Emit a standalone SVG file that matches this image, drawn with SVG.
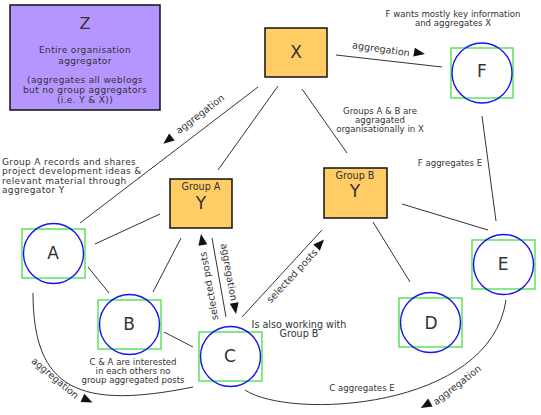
<svg xmlns="http://www.w3.org/2000/svg" xmlns:xlink="http://www.w3.org/1999/xlink" width="541" height="415" viewBox="0 0 541 415">
<defs>
<style>
.t{font-family:"DejaVu Sans",Verdana,sans-serif;fill:#333;font-size:8.6px}
.m{font-size:9.6px}
.s{font-size:9px;letter-spacing:0.35px}
.big{font-size:17px}
.ln{fill:none;stroke:#333;stroke-width:1}
.box{stroke:#111;stroke-width:1.5}
.y{fill:#FFCC66}
.z{fill:#B596FF}
.gr{fill:none;stroke:#44DD44;stroke-width:1.3}
.ci{fill:none;stroke:#1515EE;stroke-width:1.4}
.ah{fill:#111}
</style>
<path id="ah" d="M6,0 L-5,-4.5 L-5,4.5 Z"/>
</defs>
<rect width="541" height="415" fill="#fff"/>

<g id="connectors">
<line class="ln" x1="336" y1="55" x2="442" y2="67"/>
<line class="ln" x1="258" y1="87" x2="80" y2="223"/>
<line class="ln" x1="278" y1="86" x2="218" y2="170"/>
<line class="ln" x1="302" y1="89" x2="347" y2="153"/>
<line class="ln" x1="482" y1="116" x2="496" y2="221"/>
<line class="ln" x1="402" y1="204" x2="488" y2="230"/>
<line class="ln" x1="373" y1="222" x2="410" y2="282"/>
<line class="ln" x1="95" y1="244" x2="160" y2="214"/>
<line class="ln" x1="88" y1="267" x2="109" y2="293"/>
<line class="ln" x1="181" y1="238" x2="153" y2="292"/>
<line class="ln" x1="164" y1="332" x2="193" y2="347"/>
<line class="ln" x1="212" y1="238" x2="226" y2="317"/>
<line class="ln" x1="242" y1="317" x2="322" y2="230"/>
<path class="ln" d="M33,293 C33,390 80,410 193,387"/>
<path class="ln" d="M245,390 C290,420 490,410 506,300"/>
<use xlink:href="#ah" class="ah" transform="translate(419,53) rotate(10)"/>
<use xlink:href="#ah" class="ah" transform="translate(168,140) rotate(142)"/>
<use xlink:href="#ah" class="ah" transform="translate(235,308) rotate(80)"/>
<use xlink:href="#ah" class="ah" transform="translate(202,240) rotate(-100)"/>
<use xlink:href="#ah" class="ah" transform="translate(320,244) rotate(-47)"/>
<use xlink:href="#ah" class="ah" transform="translate(87,400) rotate(25)"/>
<use xlink:href="#ah" class="ah" transform="translate(426,405) rotate(150)"/>
<text class="t m" text-anchor="middle" transform="translate(381,49) rotate(8)" y="3.3">aggregation</text>
<text class="t m" text-anchor="middle" transform="translate(200,114) rotate(-37.5)" y="3.3">aggregation</text>
<text class="t m" text-anchor="middle" transform="translate(229,272) rotate(80)" y="3.3">aggregation</text>
<text class="t m" text-anchor="middle" transform="translate(209,286) rotate(-100)" y="3.3">selected posts</text>
<text class="t m" text-anchor="middle" transform="translate(292,276) rotate(-47)" y="3.3">selected posts</text>
<text class="t m" text-anchor="middle" transform="translate(55,378) rotate(40)" y="3.3">aggregation</text>
<text class="t m" text-anchor="middle" transform="translate(457,385) rotate(-38)" y="3.3">aggregation</text>
</g>

<g id="Z">
<rect class="box z" x="10" y="5" width="150" height="105"/>
<text class="t" text-anchor="middle" x="85" y="29" style="font-size:16px">Z</text>
<text class="t s" text-anchor="middle"><tspan x="85" y="53">Entire organisation</tspan><tspan x="85" y="63.5">aggregator</tspan><tspan x="85" y="82.5">(aggregates all weblogs</tspan><tspan x="85" y="92.5">but no group aggregators</tspan><tspan x="85" y="102.5">(i.e. Y &amp; X))</tspan></text>
</g>

<g id="X">
<rect class="box y" x="265" y="28" width="62" height="49"/>
<text class="t big" text-anchor="middle" x="296" y="58">X</text>
</g>

<g id="GroupA">
<rect class="box y" x="170" y="179" width="62" height="49"/>
<text class="t m" text-anchor="middle" x="201" y="190">Group A</text>
<text class="t big" text-anchor="middle" x="201" y="209">Y</text>
</g>

<g id="GroupB">
<rect class="box y" x="324" y="168" width="63" height="50"/>
<text class="t m" text-anchor="middle" x="355" y="179">Group B</text>
<text class="t big" text-anchor="middle" x="355" y="197">Y</text>
</g>

<g id="A">
<rect class="gr" x="22" y="229" width="63" height="49"/>
<circle class="ci" cx="53.5" cy="253.5" r="30"/>
<text class="t big" text-anchor="middle" x="53" y="259">A</text>
</g>
<g id="B">
<rect class="gr" x="98" y="300" width="63" height="49"/>
<circle class="ci" cx="129.5" cy="324.5" r="30"/>
<text class="t big" text-anchor="middle" x="129" y="330">B</text>
</g>
<g id="C">
<rect class="gr" x="199" y="332" width="63" height="49"/>
<circle class="ci" cx="230.5" cy="356.5" r="30"/>
<text class="t big" text-anchor="middle" x="230" y="362">C</text>
</g>
<g id="D">
<rect class="gr" x="399" y="298" width="63" height="49"/>
<circle class="ci" cx="430.5" cy="322.5" r="30"/>
<text class="t big" text-anchor="middle" x="431" y="329">D</text>
</g>
<g id="E">
<rect class="gr" x="472" y="240" width="63" height="49"/>
<circle class="ci" cx="503.5" cy="264.5" r="30"/>
<text class="t big" text-anchor="middle" x="503" y="270">E</text>
</g>
<g id="F">
<rect class="gr" x="451" y="48" width="62" height="50"/>
<circle class="ci" cx="482" cy="73" r="30"/>
<text class="t big" text-anchor="middle" x="482" y="77">F</text>
</g>

<g id="labels">
<text class="t" text-anchor="middle"><tspan x="453" y="17.3">F wants mostly key information</tspan><tspan x="453" y="26.3">and aggregates X</tspan></text>
<text class="t" text-anchor="middle"><tspan x="380" y="114">Groups A &amp; B are</tspan><tspan x="380" y="123">aggragated</tspan><tspan x="380" y="132">organisationally in X</tspan></text>
<text class="t" text-anchor="middle" x="450" y="166">F aggregates E</text>
<text class="t s"><tspan x="2" y="164.5">Group A records and shares</tspan><tspan x="2" y="174">project development ideas &amp;</tspan><tspan x="2" y="183.5">relevant material through</tspan><tspan x="2" y="193">aggregator Y</tspan></text>
<text class="t m" text-anchor="middle"><tspan x="299" y="327.5">Is also working with</tspan><tspan x="299" y="337">Group B</tspan></text>
<text class="t" text-anchor="middle"><tspan x="133" y="365">C &amp; A are interested</tspan><tspan x="133" y="374">in each others no</tspan><tspan x="133" y="383">group aggregated posts</tspan></text>
<text class="t" text-anchor="middle" x="362" y="391">C aggregates E</text>
</g>
</svg>
